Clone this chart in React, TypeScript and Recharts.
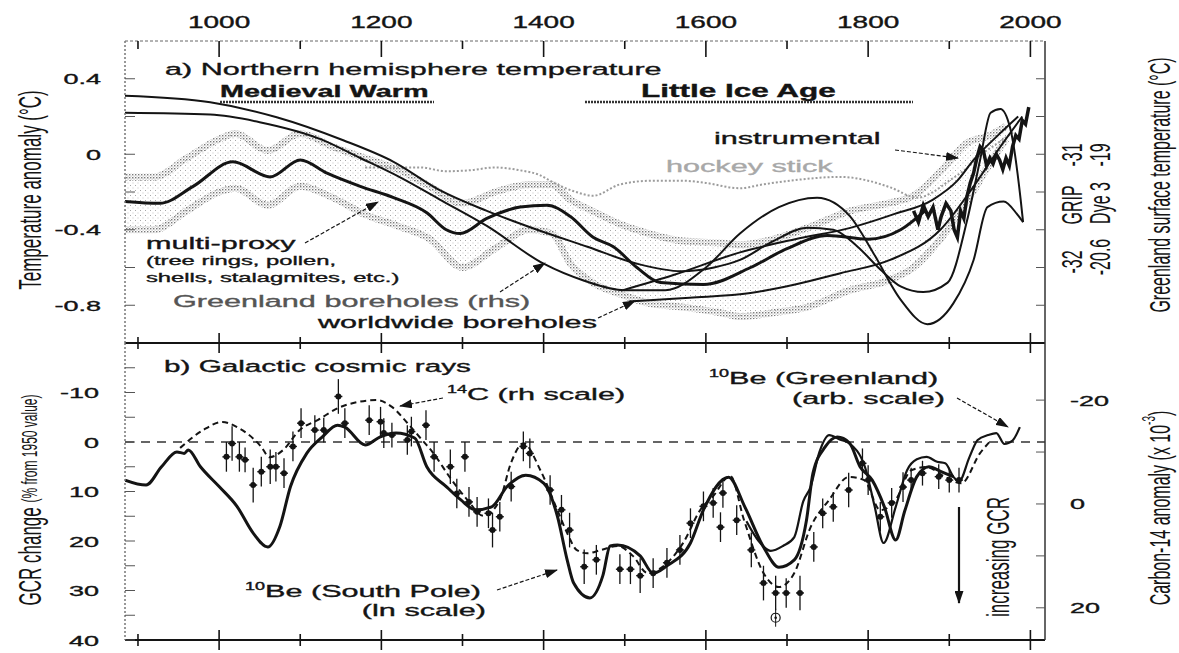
import React from "react";
import {
  ComposedChart,
  Line,
  Area,
  Scatter,
  ErrorBar,
  XAxis,
  YAxis,
  ReferenceLine,
} from "recharts";

// ---------- shared x axis (years AD) ----------
const yearDomain: [number, number] = [884, 2018];
const yearTicks = [900, 1000, 1100, 1200, 1300, 1400, 1500, 1600, 1700, 1800, 1900, 2000];
const yearLabels = [1000, 1200, 1400, 1600, 1800, 2000];

// ---------- panel a: NH temperature anomaly (°C) ----------
const tempDomain: [number, number] = [-1, 0.6];
const tempTicks = [0.4, 0.2, 0, -0.2, -0.4, -0.6, -0.8];
const tempLabels = ["0.4", "0", "-0.4", "-0.8"];

const multiProxy = [
  [884, -0.25], [927, -0.26], [968, -0.17], [1017, -0.04], [1063, -0.12], [1100, -0.03],
  [1133, -0.1], [1174, -0.17], [1215, -0.23], [1256, -0.31], [1280, -0.4], [1297, -0.42],
  [1330, -0.34], [1371, -0.28], [1404, -0.27], [1433, -0.33], [1461, -0.44], [1486, -0.49],
  [1515, -0.6], [1544, -0.68], [1597, -0.69], [1655, -0.6], [1700, -0.5], [1750, -0.43],
  [1800, -0.45], [1840, -0.4], [1870, -0.3],
];

const bandYears = [884, 920, 960, 1000, 1020, 1060, 1100, 1140, 1180, 1220, 1260, 1300, 1340, 1383, 1410, 1433, 1460, 1494, 1530, 1572, 1618, 1642, 1683, 1725, 1778, 1824, 1856, 1889, 1922, 1950, 1970];
const bandLow = [-0.4, -0.4, -0.3, -0.2, -0.18, -0.27, -0.17, -0.23, -0.32, -0.38, -0.45, -0.6, -0.5, -0.4, -0.42, -0.58, -0.68, -0.74, -0.79, -0.81, -0.84, -0.86, -0.84, -0.81, -0.72, -0.67, -0.6, -0.45, -0.25, -0.05, 0.08];
const bandHigh = [-0.12, -0.12, -0.02, 0.08, 0.11, 0.02, 0.11, 0.04, -0.02, -0.08, -0.17, -0.26, -0.2, -0.16, -0.16, -0.24, -0.3, -0.37, -0.42, -0.46, -0.47, -0.48, -0.45, -0.39, -0.3, -0.26, -0.22, -0.09, 0.06, 0.1, 0.15];

const hockeyStick = [
  [1180, -0.07], [1248, -0.07], [1280, -0.09], [1309, -0.085], [1340, -0.07], [1371, -0.085],
  [1395, -0.11], [1412, -0.15], [1440, -0.2], [1461, -0.22], [1494, -0.16], [1535, -0.14],
  [1570, -0.14], [1597, -0.15], [1642, -0.18], [1670, -0.16], [1704, -0.14], [1766, -0.12],
  [1800, -0.14], [1827, -0.175], [1861, -0.23], [1880, -0.2], [1900, -0.14], [1920, -0.08],
  [1940, 0.0], [1960, 0.06], [1980, 0.12],
];

const gripBorehole = [
  [884, 0.31], [989, 0.275], [1071, 0.196], [1153, 0.074], [1215, -0.04], [1272, -0.19],
  [1330, -0.3], [1392, -0.4], [1454, -0.49], [1515, -0.58], [1570, -0.62], [1610, -0.6],
  [1642, -0.56], [1683, -0.46], [1725, -0.39], [1757, -0.4], [1787, -0.49], [1815, -0.61],
  [1840, -0.7], [1868, -0.73], [1898, -0.68], [1922, -0.35], [1938, -0.03], [1951, 0.22],
  [1963, 0.24], [1975, 0.14], [1988, -0.24], [1991, -0.36],
];

const dye3Borehole = [
  [884, 0.22], [989, 0.21], [1050, 0.17], [1125, 0.08], [1174, -0.02], [1222, -0.12],
  [1272, -0.24], [1330, -0.38], [1400, -0.58], [1450, -0.67], [1500, -0.72], [1550, -0.72],
  [1600, -0.6], [1642, -0.42], [1690, -0.28], [1737, -0.23], [1778, -0.33], [1806, -0.52],
  [1840, -0.77], [1873, -0.9], [1905, -0.79], [1930, -0.56], [1947, -0.28], [1967, -0.25],
  [1984, -0.32], [1991, -0.36],
];

const worldBorehole1 = [
  [1498, -0.72], [1560, -0.64], [1642, -0.52], [1710, -0.45], [1778, -0.39], [1830, -0.32],
  [1880, -0.24], [1910, -0.14], [1930, -0.03], [1960, 0.1], [1985, 0.2],
];

const worldBorehole2 = [
  [1505, -0.78], [1580, -0.76], [1655, -0.735], [1710, -0.69], [1766, -0.63], [1827, -0.56],
  [1889, -0.4], [1930, -0.17], [1963, 0.04], [1990, 0.2],
];

const instrumental = [
  [1856, -0.3], [1862, -0.36], [1868, -0.27], [1874, -0.33], [1880, -0.28], [1886, -0.4],
  [1890, -0.33], [1896, -0.26], [1902, -0.3], [1906, -0.4], [1910, -0.44], [1914, -0.3],
  [1918, -0.34], [1922, -0.22], [1926, -0.15], [1930, -0.1], [1934, -0.02], [1938, 0.04],
  [1942, 0.02], [1946, -0.06], [1950, -0.02], [1954, -0.05], [1958, 0.0], [1962, -0.03],
  [1966, -0.08], [1970, -0.02], [1974, -0.06], [1978, 0.04], [1982, 0.1], [1986, 0.08],
  [1990, 0.18], [1994, 0.16], [1998, 0.25],
];

// ---------- panel b: galactic cosmic rays ----------
const gcrDomain: [number, number] = [-20, 40];
const gcrTicks = [-15, -10, -5, 0, 5, 10, 15, 20, 25, 30, 35, 40];
const gcrLabels = ["-10", "0", "10", "20", "30", "40"];
const c14Domain: [number, number] = [-31, 26.2];
const c14Ticks = [-20, -10, 0, 10, 20];
const c14Labels = ["-20", "0", "20"];

const be10SouthPole = [
  [884, 7.7], [910, 8.7], [929, 5.0], [948, 2.0], [957, 2.3], [962, 1.6], [977, 5.0],
  [1000, 9.0], [1022, 13.0], [1042, 18.4], [1060, 21.2], [1075, 17.0], [1088, 9.0],
  [1108, 2.3], [1127, -1.0], [1146, -3.4], [1155, -3.0], [1180, 0.6], [1198, -1.0],
  [1218, -1.8], [1241, -0.8], [1256, 5.0], [1280, 9.0], [1298, 11.7], [1316, 13.7],
  [1336, 13.1], [1355, 9.0], [1378, 6.7], [1400, 8.3], [1417, 15.0], [1429, 23.8],
  [1437, 28.5], [1457, 31.5], [1473, 27.0], [1482, 21.0], [1491, 20.8], [1519, 23.0],
  [1535, 26.5], [1552, 25.0], [1581, 20.4], [1597, 13.7], [1628, 7.1], [1648, 13.1],
  [1671, 21.2], [1690, 25.3], [1709, 23.8], [1724, 15.8], [1732, 6.3], [1747, 1.0],
  [1762, -1.0], [1777, 0.2], [1790, 5.0], [1805, 7.7], [1820, 13.1], [1834, 19.8],
  [1845, 14.0], [1860, 7.0], [1875, 5.0], [1890, 6.0], [1905, 7.0],
];

const be10Greenland = [
  [1650, 16], [1665, 20], [1680, 22], [1695, 21], [1709, 19.2], [1720, 12], [1729, 9.1],
  [1740, 2], [1752, -1.4], [1765, -0.5], [1776, 0.2], [1796, 5], [1808, 13],
  [1819, 20.4], [1834, 13.1], [1848, 5.7], [1860, 3.5], [1872, 3], [1885, 4], [1895, 4.3],
  [1905, 7], [1912, 8], [1925, 3], [1935, -0.4], [1948, -1.4], [1958, -1.8], [1968, 0.4],
  [1978, -0.3], [1987, -3],
];

// 14C in right-hand units (x 10^-3)
const carbon14 = [
  [952, -10.8], [980, -14.2], [1004, -15.8], [1022, -14.8], [1052, -11], [1062, -9],
  [1079, -10.4], [1099, -14.2], [1122, -16.2], [1147, -18.5], [1170, -19.6], [1194, -20],
  [1213, -18.7], [1232, -15.6], [1247, -12.9], [1264, -9.8], [1285, -5], [1306, -0.8],
  [1326, 2.3], [1346, -0.8], [1360, -8], [1375, -11.7], [1396, -6.5], [1417, 1.2],
  [1429, 5.6], [1441, 8.9], [1454, 9.5], [1470, 8.9], [1491, 8.1], [1510, 10], [1528, 13.3],
  [1552, 11.4], [1572, 7.5], [1593, 1.2], [1609, -1.5], [1630, -5.4], [1647, 3.1],
  [1671, 13.3], [1690, 16], [1709, 13.3], [1729, 4.5], [1752, -0.8], [1776, -5.2],
  [1795, -4.6], [1815, 1.2], [1834, -0.8], [1853, -6.5], [1872, -7.1], [1895, -5.2],
  [1915, -4], [1938, -9.8], [1950, -12],
];

// 10Be samples: year, value, error
const be10Samples = [
  [1009, 3.0, 3], [1016, 0.3, 3.5], [1025, 3.0, 3], [1032, 3.6, 2.5], [1042, 8.7, 3.5],
  [1052, 6.0, 3], [1063, 5.0, 3.5], [1070, 5.0, 3], [1080, 6.3, 3], [1091, 0.9, 3],
  [1101, -3.8, 3], [1118, -2.4, 3], [1129, -2.4, 2.5], [1147, -9.2, 3.5], [1155, -3.8, 3],
  [1185, -4.4, 3], [1199, -4.1, 3], [1203, -1.8, 3], [1213, -1.4, 2.5], [1232, -0.4, 3],
  [1237, -2.1, 3], [1255, -3.4, 3], [1265, 3.0, 3], [1285, 5.0, 3.5], [1293, 10.4, 3],
  [1303, 3.0, 3], [1308, 12.1, 3], [1318, 14.1, 3], [1332, 14.4, 3], [1337, 17.8, 3.5],
  [1346, 15.1, 3], [1360, 9.0, 3], [1375, 0.9, 3], [1383, 2.3, 3], [1408, 9.7, 3],
  [1422, 13.7, 3], [1432, 17.8, 3.5], [1450, 25.2, 3.5], [1465, 23.8, 3], [1494, 25.7, 3],
  [1507, 25.7, 3], [1519, 27.0, 3.5], [1535, 26.5, 3], [1552, 24.4, 3], [1568, 21.8, 3],
  [1581, 16.4, 3], [1597, 13.0, 3], [1609, 12.3, 3], [1618, 17.2, 3], [1621, 10.3, 3],
  [1638, 15.8, 3], [1656, 21.8, 3.5], [1671, 28.5, 3.5], [1686, 30.5, 3.5], [1699, 30.5, 3],
  [1716, 30.5, 3.5], [1733, 21.2, 3], [1744, 14.4, 3], [1757, 13.1, 3], [1776, 9.7, 3.5],
  [1793, 4.3, 3], [1800, 7.7, 3], [1815, 15.1, 3], [1829, 12.3, 3], [1843, 9.1, 3],
  [1853, 7.7, 2.5], [1867, 6.3, 2.5], [1887, 7.0, 2.5], [1900, 7.7, 2.5], [1912, 7.7, 2.5],
];
const be10Outliers = [[1686, 35.5]];

// ---------- helpers ----------
const SX = 1.8; // the scan is stretched horizontally
const FONT = "'Liberation Sans', Arial, Helvetica, sans-serif";
const INK = "#141414";
const TEXT_STROKE = 0.35;

const toPts = (a: number[][]) => a.map(([year, v]) => ({ year, v }));
const bandData = bandYears.map((year, i) => ({
  year,
  lo: bandLow[i],
  hi: bandHigh[i],
  range: [bandLow[i], bandHigh[i]],
}));
const sampleData = be10Samples.map(([year, v, err]) => ({ year, v, err }));

function topTick(p: any) {
  const v = p.payload.value;
  const major = yearLabels.includes(v);
  return (
    <g>
      <line x1={p.x} x2={p.x} y1={41} y2={41 + (major ? 16 : 8)} stroke={INK} strokeWidth={1.6} />
      {major && (
        <text transform={`translate(${p.x},28) scale(1.75,1)`} textAnchor="middle" fontSize={16}
          fill={INK} stroke={INK} strokeWidth={TEXT_STROKE}>
          {v}
        </text>
      )}
    </g>
  );
}

// ticks straddling the axis line at a fixed y
function crossTick(y: number) {
  return (p: any) => {
    const major = yearLabels.includes(p.payload.value);
    const h = major ? 10 : 6;
    return <line x1={p.x} x2={p.x} y1={y - h} y2={y + h} stroke={INK} strokeWidth={1.6} />;
  };
}

function leftTick(labels: string[], labelX: number) {
  return (p: any) => {
    const s = String(p.payload.value);
    return (
      <g>
        <line x1={125} x2={135} y1={p.y} y2={p.y} stroke="#555" strokeWidth={1} />
        {labels.includes(s) && (
          <text transform={`translate(${labelX},${p.y + 5.5}) scale(${SX},1)`} textAnchor="end" fontSize={15}
            fill={INK} stroke={INK} strokeWidth={TEXT_STROKE}>
            {s}
          </text>
        )}
      </g>
    );
  };
}

function rightTick(labels: string[], labelX: number) {
  return (p: any) => {
    const s = String(p.payload.value);
    return (
      <g>
        <line x1={1036} x2={1045} y1={p.y} y2={p.y} stroke="#555" strokeWidth={1} />
        {labels.includes(s) && (
          <text transform={`translate(${labelX},${p.y + 5.5}) scale(${SX},1)`} textAnchor="start" fontSize={15}
            fill={INK} stroke={INK} strokeWidth={TEXT_STROKE}>
            {s}
          </text>
        )}
      </g>
    );
  };
}

function SampleMark(p: any) {
  return (
    <g>
      <line x1={p.cx - 4} x2={p.cx + 4} y1={p.cy} y2={p.cy} stroke={INK} strokeWidth={1.4} />
      <circle cx={p.cx} cy={p.cy} r={3} fill={INK} />
    </g>
  );
}

function OutlierMark(p: any) {
  return (
    <g>
      <circle cx={p.cx} cy={p.cy} r={4.5} fill="none" stroke={INK} strokeWidth={1.2} />
      <circle cx={p.cx} cy={p.cy} r={1.3} fill={INK} />
      <line x1={p.cx} x2={p.cx} y1={p.cy - 9} y2={p.cy + 9} stroke={INK} strokeWidth={1} />
    </g>
  );
}

function T({ x, y, size = 17, anchor = "start", bold = false, fill = INK, children }: any) {
  return (
    <text
      transform={`translate(${x},${y}) scale(${SX},1)`}
      fontSize={size}
      textAnchor={anchor}
      fontWeight={bold ? 700 : 400}
      fill={fill}
      stroke={fill}
      strokeWidth={TEXT_STROKE}
    >
      {children}
    </text>
  );
}

function VT({ x, y, size = 16, children }: any) {
  return (
    <text
      transform={`translate(${x},${y}) rotate(-90) scale(1,${SX})`}
      fontSize={size}
      textAnchor="middle"
      dominantBaseline="central"
      fill={INK}
    >
      {children}
    </text>
  );
}

const annotationArrows = [
  { from: [305, 243], to: [378, 202] },
  { from: [500, 292], to: [545, 263] },
  { from: [598, 318], to: [635, 301] },
  { from: [895, 150], to: [958, 158] },
  { from: [443, 398], to: [400, 406] },
  { from: [497, 590], to: [557, 570] },
  { from: [957, 398], to: [1008, 427] },
];

const lineBase = { dot: false, activeDot: false, isAnimationActive: false } as const;

export default function App() {
  return (
    <div
      style={{
        position: "absolute",
        left: 0,
        top: 0,
        width: 1179,
        height: 653,
        background: "#fff",
        overflow: "hidden",
        fontFamily: FONT,
      }}
    >
      {/* panel a */}
      <div style={{ position: "absolute", left: 0, top: 0 }}>
        <ComposedChart width={1179} height={356} margin={{ top: 40, right: 133, bottom: 12, left: 124 }} style={{ fontFamily: FONT }}>
          <defs>
            <pattern id="stipLight" width="5" height="5" patternUnits="userSpaceOnUse">
              <rect x="0" y="0" width="1" height="1" fill="#a8a8a8" />
              <rect x="2.5" y="2.5" width="1" height="1" fill="#c4c4c4" />
            </pattern>
            <pattern id="stipEdge" width="3" height="3" patternUnits="userSpaceOnUse">
              <rect x="0" y="0" width="1.4" height="1.4" fill="#7a7a7a" />
              <rect x="1.6" y="1.6" width="1" height="1" fill="#a0a0a0" />
            </pattern>
          </defs>
          <XAxis xAxisId="t" dataKey="year" type="number" domain={yearDomain} allowDataOverflow orientation="top"
            ticks={yearTicks} interval={0} height={1} tickSize={0} tickMargin={0} tickLine={false}
            tick={topTick} axisLine={{ stroke: "#666", strokeDasharray: "3 2" }} />
          <XAxis xAxisId="b" dataKey="year" type="number" domain={yearDomain} allowDataOverflow orientation="bottom"
            ticks={yearTicks} interval={0} height={1} tickSize={0} tickMargin={0} tickLine={false}
            tick={crossTick(343)} axisLine={{ stroke: INK, strokeWidth: 2 }} />
          <YAxis yAxisId="L" type="number" domain={tempDomain} allowDataOverflow ticks={tempTicks} interval={0}
            width={1} tickSize={0} tickMargin={0} tickLine={false} tick={leftTick(tempLabels, 101)}
            axisLine={{ stroke: "#777", strokeDasharray: "2 2", strokeWidth: 1.5 }} />
          <YAxis yAxisId="R" orientation="right" type="number" domain={tempDomain} allowDataOverflow ticks={tempTicks}
            interval={0} width={1} tickSize={0} tickMargin={0} tickLine={false} tick={rightTick([], 0)}
            axisLine={{ stroke: "#333", strokeWidth: 1.5 }} />

          <Area xAxisId="t" yAxisId="L" data={bandData} dataKey="range" type="monotone" stroke="none"
            fill="url(#stipLight)" fillOpacity={1} isAnimationActive={false} activeDot={false} />
          <Line xAxisId="t" yAxisId="L" data={bandData} dataKey="hi" type="monotone" stroke="url(#stipEdge)" strokeWidth={7} {...lineBase} />
          <Line xAxisId="t" yAxisId="L" data={bandData} dataKey="lo" type="monotone" stroke="url(#stipEdge)" strokeWidth={7} {...lineBase} />

          <Line xAxisId="t" yAxisId="L" data={toPts(hockeyStick)} dataKey="v" type="monotone" stroke="#9c9c9c" strokeWidth={2} strokeDasharray="2 2" {...lineBase} />
          <Line xAxisId="t" yAxisId="L" data={toPts(worldBorehole1)} dataKey="v" type="monotone" stroke={INK} strokeWidth={2} {...lineBase} />
          <Line xAxisId="t" yAxisId="L" data={toPts(worldBorehole2)} dataKey="v" type="monotone" stroke={INK} strokeWidth={2} {...lineBase} />
          <Line xAxisId="t" yAxisId="L" data={toPts(gripBorehole)} dataKey="v" type="monotone" stroke={INK} strokeWidth={2} {...lineBase} />
          <Line xAxisId="t" yAxisId="L" data={toPts(dye3Borehole)} dataKey="v" type="monotone" stroke={INK} strokeWidth={2} {...lineBase} />
          <Line xAxisId="t" yAxisId="L" data={toPts(multiProxy)} dataKey="v" type="monotone" stroke={INK} strokeWidth={3} {...lineBase} />
          <Line xAxisId="t" yAxisId="L" data={toPts(instrumental)} dataKey="v" type="linear" stroke={INK} strokeWidth={3.5} {...lineBase} />
        </ComposedChart>
      </div>

      {/* panel b */}
      <div style={{ position: "absolute", left: 0, top: 330 }}>
        <ComposedChart width={1179} height={323} margin={{ top: 13, right: 133, bottom: 12, left: 124 }} style={{ fontFamily: FONT }}>
          <XAxis xAxisId="b" dataKey="year" type="number" domain={yearDomain} allowDataOverflow orientation="bottom"
            ticks={yearTicks} interval={0} height={1} tickSize={0} tickMargin={0} tickLine={false}
            tick={crossTick(310)} axisLine={{ stroke: INK, strokeWidth: 2 }} />
          <YAxis yAxisId="L" type="number" domain={gcrDomain} reversed allowDataOverflow ticks={gcrTicks} interval={0}
            width={1} tickSize={0} tickMargin={0} tickLine={false} tick={leftTick(gcrLabels, 99)}
            axisLine={{ stroke: "#777", strokeDasharray: "2 2", strokeWidth: 1.5 }} />
          <YAxis yAxisId="R" orientation="right" type="number" domain={c14Domain} reversed allowDataOverflow ticks={c14Ticks}
            interval={0} width={1} tickSize={0} tickMargin={0} tickLine={false} tick={rightTick(c14Labels, 1070)}
            axisLine={{ stroke: "#333", strokeWidth: 1.5 }} />

          <ReferenceLine xAxisId="b" yAxisId="L" y={0} stroke="#333" strokeWidth={1.4} strokeDasharray="9 7" />

          <Line xAxisId="b" yAxisId="R" data={toPts(carbon14)} dataKey="v" type="monotone" stroke={INK} strokeWidth={2} strokeDasharray="6 4" {...lineBase} />
          <Line xAxisId="b" yAxisId="L" data={toPts(be10Greenland)} dataKey="v" type="monotone" stroke={INK} strokeWidth={2.2} {...lineBase} />
          <Line xAxisId="b" yAxisId="L" data={toPts(be10SouthPole)} dataKey="v" type="monotone" stroke={INK} strokeWidth={3} {...lineBase} />
          <Scatter xAxisId="b" yAxisId="L" data={sampleData} dataKey="v" shape={SampleMark} isAnimationActive={false}>
            <ErrorBar dataKey="err" direction="y" width={0} stroke={INK} strokeWidth={1.3} />
          </Scatter>
          <Scatter xAxisId="b" yAxisId="L" data={toPts(be10Outliers)} dataKey="v" shape={OutlierMark} isAnimationActive={false} />
        </ComposedChart>
      </div>

      {/* annotations */}
      <svg width={1179} height={653} style={{ position: "absolute", left: 0, top: 0, pointerEvents: "none", fontFamily: FONT }}>
        <defs>
          <marker id="ah" markerWidth="13" markerHeight="9" refX="12" refY="4.5" orient="auto" markerUnits="userSpaceOnUse">
            <path d="M0,0 L13,4.5 L0,9 z" fill={INK} />
          </marker>
        </defs>

        <T x={165} y={75}>a) Northern hemisphere temperature</T>
        <T x={220} y={97} size={16} bold>Medieval Warm</T>
        <line x1={220} x2={434} y1={102} y2={102} stroke="#333" strokeWidth={2.5} strokeDasharray="2 1" />
        <T x={641} y={97} size={17.5} bold>Little Ice Age</T>
        <line x1={585} x2={913} y1={102} y2={102} stroke="#333" strokeWidth={2.5} strokeDasharray="2 1" />
        <T x={714} y={144}>instrumental</T>
        <T x={666} y={172} fill="#a8a8a8">hockey stick</T>
        <T x={146} y={249}>multi-proxy</T>
        <T x={146} y={265} size={13.2}>(tree rings, pollen,</T>
        <T x={146} y={282} size={13.2}>shells, stalagmites, etc.)</T>
        <T x={173} y={307} fill="#555">Greenland boreholes (rhs)</T>
        <T x={318} y={328}>worldwide boreholes</T>

        <T x={164} y={372} size={16.5}>b) Galactic cosmic rays</T>
        <T x={447} y={400}>
          <tspan fontSize={10} dy={-7}>14</tspan>
          <tspan dy={7}>C (rh scale)</tspan>
        </T>
        <T x={245} y={597}>
          <tspan fontSize={10} dy={-7}>10</tspan>
          <tspan dy={7}>Be (South Pole)</tspan>
        </T>
        <T x={486} y={616} anchor="end">(ln scale)</T>
        <T x={709} y={384}>
          <tspan fontSize={10} dy={-7}>10</tspan>
          <tspan dy={7}>Be (Greenland)</tspan>
        </T>
        <T x={945} y={404} anchor="end">(arb. scale)</T>

        {annotationArrows.map((a, i) => (
          <line key={i} x1={a.from[0]} y1={a.from[1]} x2={a.to[0]} y2={a.to[1]} stroke={INK}
            strokeWidth={1.2} strokeDasharray="4 2" markerEnd="url(#ah)" />
        ))}

        <line x1={959} y1={507} x2={959} y2={603} stroke={INK} strokeWidth={2.2} markerEnd="url(#ah)" />
        <VT x={998} y={557} size={17}>increasing GCR</VT>

        <VT x={30} y={190} size={17}>Temperature anomaly (°C)</VT>
        <VT x={30} y={500} size={17}>
          GCR change <tspan fontSize={12}>(% from 1950 value)</tspan>
        </VT>
        <VT x={1160} y={185} size={16}>Greenland surface temperature (°C)</VT>
        <VT x={1160} y={508} size={16}>
          Carbon-14 anomaly (x 10<tspan fontSize={10} dy={-6}>-3</tspan><tspan dy={6}>)</tspan>
        </VT>

        <VT x={1072} y={262} size={16}>-32</VT>
        <VT x={1072} y={205} size={16}>GRIP</VT>
        <VT x={1072} y={155} size={16}>-31</VT>
        <VT x={1100} y={257} size={16}>-20.6</VT>
        <VT x={1100} y={203} size={16}>Dye 3</VT>
        <VT x={1100} y={155} size={16}>-19</VT>
      </svg>
    </div>
  );
}
